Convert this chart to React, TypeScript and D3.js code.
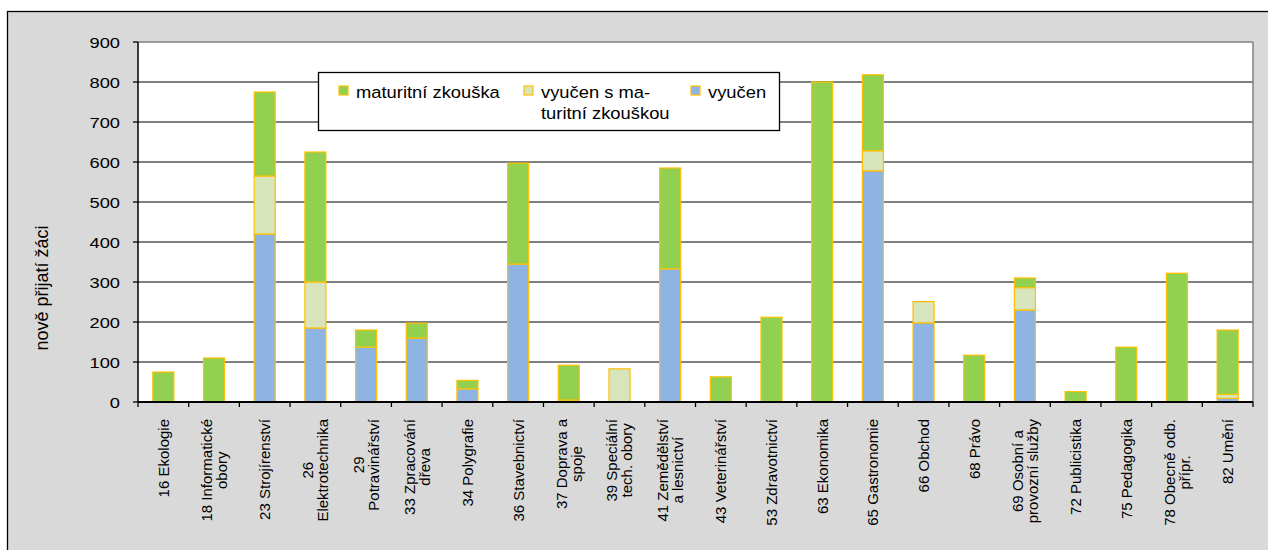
import React from "react";
import * as d3 from "d3";

const categories: string[][] = [
  ["16 Ekologie"],
  ["18 Informatické", "obory"],
  ["23 Strojírenství"],
  ["26", "Elektrotechnika"],
  ["29", "Potravinářství"],
  ["33 Zpracování", "dřeva"],
  ["34 Polygrafie"],
  ["36 Stavebnictví"],
  ["37 Doprava a", "spoje"],
  ["39 Speciální", "tech. obory"],
  ["41 Zemědělství", "a lesnictví"],
  ["43 Veterinářství"],
  ["53 Zdravotnictví"],
  ["63 Ekonomika"],
  ["65 Gastronomie"],
  ["66 Obchod"],
  ["68 Právo"],
  ["69 Osobní a", "provozní služby"],
  ["72 Publicistika"],
  ["75 Pedagogika"],
  ["78 Obecně odb.", "přípr."],
  ["82 Umění"],
];

const vyucen = [0, 0, 420, 185, 137, 160, 33, 345, 5, 0, 333, 0, 0, 0, 578, 198, 0, 230, 0, 0, 0, 9];
const vyucenMat = [0, 0, 145, 115, 0, 0, 0, 0, 0, 83, 0, 0, 0, 0, 50, 53, 0, 56, 0, 0, 0, 10];
const maturita = [75, 110, 210, 325, 43, 37, 21, 252, 87, 0, 252, 63, 212, 800, 190, 0, 117, 24, 26, 137, 322, 161];

const yTicks = [0, 100, 200, 300, 400, 500, 600, 700, 800, 900];
const seriesKeys = ["vyucen", "vyucenMat", "maturita"];
const seriesColors: Record<string, string> = {
  vyucen: "#8EB4E3",
  vyucenMat: "#D8E4BC",
  maturita: "#92D050",
};
const legendItems = [
  { key: "maturita", lines: ["maturitní zkouška"] },
  { key: "vyucenMat", lines: ["vyučen s ma-", "turitní zkouškou"] },
  { key: "vyucen", lines: ["vyučen"] },
];
const yTitle = "nově přijatí žáci";

const FONT = "'Liberation Sans', Arial, sans-serif";
const BORDER = "#FFC000";

function measure(text: string, size: number): number {
  const c = document.createElement("canvas");
  const ctx = c.getContext("2d")!;
  ctx.font = `${size}px 'Liberation Sans', Arial, sans-serif`;
  return ctx.measureText(text).width;
}

function HText(props: { x: number; y: number; sx?: number; anchor?: string; size?: number; children: string }) {
  const { x, y, sx = 1.25, anchor = "start", size = 14, children } = props;
  return (
    <text
      transform={`translate(${x},${y}) scale(${sx},1)`}
      textAnchor={anchor}
      fontSize={size}
      fontFamily={FONT}
      fill="#000"
    >
      {children}
    </text>
  );
}

export default function App() {
  const W = 1268, H = 550;
  const left = 138, right = 1253, top = 42, bottom = 402;

  const rows = categories.map((c, i) => ({
    id: String(i),
    vyucen: vyucen[i],
    vyucenMat: vyucenMat[i],
    maturita: maturita[i],
  }));

  const x = d3
    .scaleBand<string>()
    .domain(rows.map((r) => r.id))
    .range([left, right])
    .paddingInner(0.585)
    .paddingOuter(0.2925);
  const step = x.step();
  const y = d3.scaleLinear().domain([0, 900]).range([bottom, top]);

  const stacked = d3.stack<any>().keys(seriesKeys)(rows);

  const labelSize = 15;
  const labelTop = 419;

  return (
    <svg
      width={W}
      height={H}
      style={{ position: "absolute", left: 0, top: 0, background: "#fff" }}
    >
      <rect x={7.5} y={11.5} width={1300} height={600} fill="#D9D9D9" stroke="#000" strokeWidth={1.3} />
      {/* plot area */}
      <rect x={left} y={top} width={right - left} height={bottom - top} fill="#fff" />
      {/* gridlines */}
      {yTicks
        .filter((t) => t > 0 && t < 900)
        .map((t) => (
          <line key={t} x1={left} x2={right} y1={y(t)} y2={y(t)} stroke="#000" strokeWidth={1} />
        ))}
      <line x1={left} x2={right} y1={y(900)} y2={y(900)} stroke="#808080" strokeWidth={1.5} />
      <line x1={right} x2={right} y1={top} y2={bottom} stroke="#808080" strokeWidth={1.5} />

      {/* bars */}
      {stacked.map((s) => (
        <g key={s.key}>
          {s.map((d, i) => {
            const h = y(d[0]) - y(d[1]);
            if (h <= 0) return null;
            return (
              <rect
                key={i}
                x={x(String(i))!}
                y={y(d[1])}
                width={x.bandwidth()}
                height={h}
                fill={seriesColors[s.key]}
                stroke={BORDER}
                strokeWidth={1.2}
              />
            );
          })}
        </g>
      ))}

      {/* y axis */}
      <line x1={left} x2={left} y1={top} y2={bottom} stroke="#000" strokeWidth={1.5} />
      {yTicks.map((t) => (
        <g key={t}>
          <line x1={left - 5} x2={left} y1={y(t)} y2={y(t)} stroke="#000" strokeWidth={1.3} />
          <HText x={120} y={y(t) + 5.5} anchor="end" size={15} sx={1.22}>
            {String(t)}
          </HText>
        </g>
      ))}
      <text
        transform={`translate(48,288) rotate(-90)`}
        textAnchor="middle"
        fontSize={18}
        fontFamily={FONT}
      >
        {yTitle}
      </text>

      {/* x axis */}
      <line x1={left} x2={right} y1={bottom} y2={bottom} stroke="#000" strokeWidth={2} />
      {d3.range(categories.length + 1).map((i) => (
        <line
          key={i}
          x1={left + i * step}
          x2={left + i * step}
          y1={bottom}
          y2={bottom + 5}
          stroke="#000"
          strokeWidth={1.3}
        />
      ))}
      {categories.map((lines, i) => {
        const cx = x(String(i))! + x.bandwidth() / 2;
        const maxW = Math.max(...lines.map((l) => measure(l, labelSize)));
        const cy = labelTop + maxW / 2;
        return (
          <g key={i}>
            {lines.map((l, j) => {
              const lx = cx + (j - (lines.length - 1) / 2) * 15 + 5.5;
              return (
                <text
                  key={j}
                  transform={`translate(${lx},${cy}) rotate(-90)`}
                  textAnchor="middle"
                  fontSize={labelSize}
                  fontFamily={FONT}
                >
                  {l}
                </text>
              );
            })}
          </g>
        );
      })}

      {/* legend */}
      <rect x={318.5} y={72.5} width={461} height={58} fill="#fff" stroke="#000" strokeWidth={1.3} />
      {legendItems.map((it, i) => {
        const sx = [339, 524, 691][i];
        return (
          <g key={it.key}>
            <rect x={sx} y={86} width={9} height={9} fill={seriesColors[it.key]} stroke={BORDER} strokeWidth={1.2} />
            {it.lines.map((l, j) => (
              <HText key={j} x={sx + 17} y={98 + j * 21} size={17} sx={1.08}>
                {l}
              </HText>
            ))}
          </g>
        );
      })}
    </svg>
  );
}
